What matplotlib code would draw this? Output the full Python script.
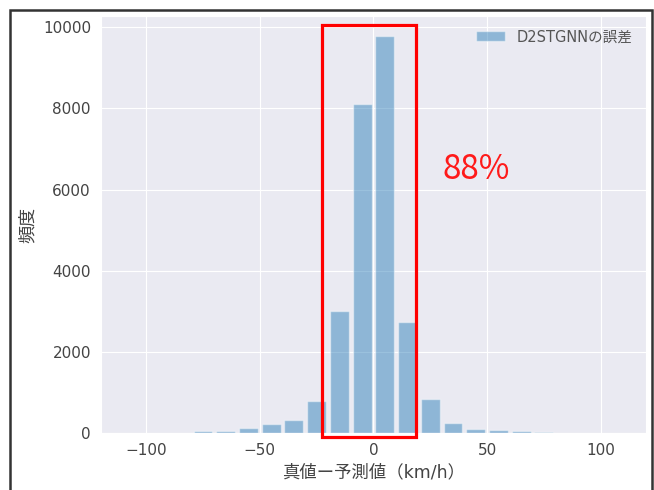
import matplotlib
matplotlib.use("Agg")
import matplotlib.pyplot as plt
import seaborn as sns
from matplotlib.patches import Rectangle

sns.set_style("darkgrid")
plt.rcParams['font.family'] = ['DejaVu Sans', 'Noto Sans CJK JP']

bin_centers = [-75, -65, -55, -45, -35, -25, -15, -5, 5, 15, 25, 35, 45, 55, 65, 75]
counts = [45, 45, 125, 225, 320, 790, 3010, 8100, 9790, 2730, 840, 245, 105, 75, 50, 25]
series_label = "D2STGNNの誤差"
highlight_text = "88%"
xlabel = "真値ー予測値（km/h）"
ylabel = "頻度"

fig = plt.figure(figsize=(6.54, 4.9), dpi=100)
ax = fig.add_axes([0.154, 0.116, 0.834, 0.851])

ax.bar(bin_centers, counts, width=8.3, color="#1f77b4", alpha=0.45, label=series_label)
ax.set_xlim(-120, 120)
ax.set_ylim(0, 10270)
ax.set_xticks([-100, -50, 0, 50, 100])
ax.set_yticks([0, 2000, 4000, 6000, 8000, 10000])
ax.tick_params(labelsize=11, colors="#444444")
ax.set_xlabel(xlabel, fontsize=12.5, color="#444444", labelpad=4)
ax.set_ylabel(ylabel, fontsize=13, color="#444444", labelpad=4)

leg = ax.legend(loc="upper right", frameon=False, fontsize=10.5)
for t in leg.get_texts():
    t.set_color("#555555")

rect = Rectangle((-22.5, -100), 41.4, 10150, fill=False, edgecolor="#ff0000",
                 linewidth=2.3, clip_on=False, zorder=5)
ax.add_patch(rect)
ax.text(30.5, 6500, highlight_text, color="#ff1a1a", fontsize=24,
        va="center", ha="left", family=['Noto Sans CJK JP', 'DejaVu Sans'])

border = Rectangle((10 / 654, -0.2), 642 / 654, 1.2 - 10 / 490, transform=fig.transFigure,
                   fill=False, edgecolor="#333333", linewidth=1.8)
fig.patches.append(border)

fig.savefig("out.png", dpi=100)
